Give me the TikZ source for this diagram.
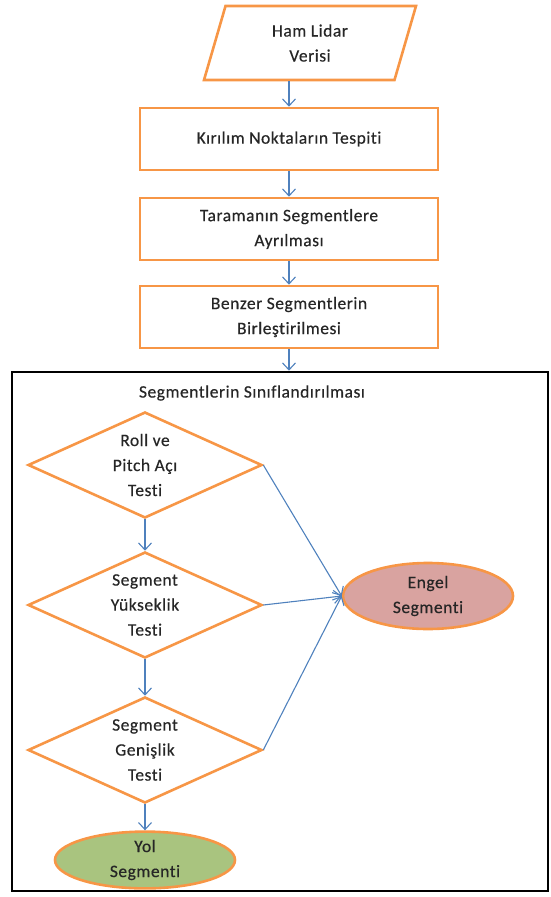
\documentclass[tikz,border=0pt]{standalone}
\usepackage{fontspec}
\setmainfont{Carlito}[LetterSpace=3, Ligatures=NoCommon, FakeBold=0.4]
\usetikzlibrary{shapes.geometric, arrows.meta}

\definecolor{boxorange}{HTML}{F79646}
\definecolor{arrowblue}{HTML}{4F81BD}
\definecolor{yolgreen}{HTML}{A9C47F}
\definecolor{engelred}{HTML}{D9A3A0}

\begin{document}
\begin{tikzpicture}[x=1pt, y=-1pt,
		every node/.style={font=\fontsize{17.5}{25}\selectfont, text=black!85, align=center},
		procbox/.style={draw=boxorange, line width=2.6pt, minimum width=298pt, minimum height=62pt, inner sep=0pt},
		testbox/.style={diamond, draw=boxorange, line width=2.6pt, aspect=2.2, minimum width=234pt, minimum height=106pt, inner sep=-5pt},
		endbox/.style={ellipse, draw=boxorange, line width=2.6pt, inner sep=0pt},
		arr/.style={draw=arrowblue, line width=1.1pt, -{Straight Barb[length=7pt, width=13pt]}}]
		\useasboundingbox (0,0) rectangle (550,897);
		% input and preprocessing
		\node[trapezium, trapezium left angle=60, trapezium right angle=120, trapezium stretches body,
			draw=boxorange, line width=2.6pt, minimum width=212pt, minimum height=74pt, inner sep=0pt] (ham) at (310,43) {Ham Lidar\\Verisi};
		\node[procbox] (kir) at (289,139) {Kırılım Noktaların Tespiti};
		\node[procbox] (tar) at (289,229) {Taramanın Segmentlere\\Ayrılması};
		\node[procbox] (ben) at (289,317) {Benzer Segmentlerin\\Birleştirilmesi};
		% classification frame
		\node[draw=black, line width=2.6pt, minimum width=536pt, minimum height=519pt, inner sep=0pt] (sin) at (280,631.5) {};
		\node (title) at (252,393) {Segmentlerin Sınıflandırılması};
		\node[testbox] (roll) at (145,465) {Roll ve\\Pitch Açı\\Testi};
		\node[testbox] (yuk) at (145,605) {Segment\\Yükseklik\\Testi};
		\node[testbox] (gen) at (145,750) {Segment\\Genişlik\\Testi};
		\node[endbox, fill=engelred, minimum width=170pt, minimum height=66pt] (engel) at (428,596) {Engel\\Segmenti};
		\node[endbox, fill=yolgreen, minimum width=180pt, minimum height=56pt] (yol) at (145,860) {Yol\\Segmenti};
		% arrows
		\draw[arr] (ham.south -| kir.north) -- (kir.north);
		\draw[arr] (kir) -- (tar);
		\draw[arr] (tar) -- (ben);
		\draw[arr] (ben.south) -- (ben.south |- sin.north);
		\draw[arr] (roll) -- (yuk);
		\draw[arr] (yuk) -- (gen);
		\draw[arr] (gen) -- (yol);
		\draw[arr] (roll.east) -- (engel.west);
		\draw[arr] (yuk.east) -- (engel.west);
		\draw[arr] (gen.east) -- (engel.west);
	\end{tikzpicture}
\end{document}
